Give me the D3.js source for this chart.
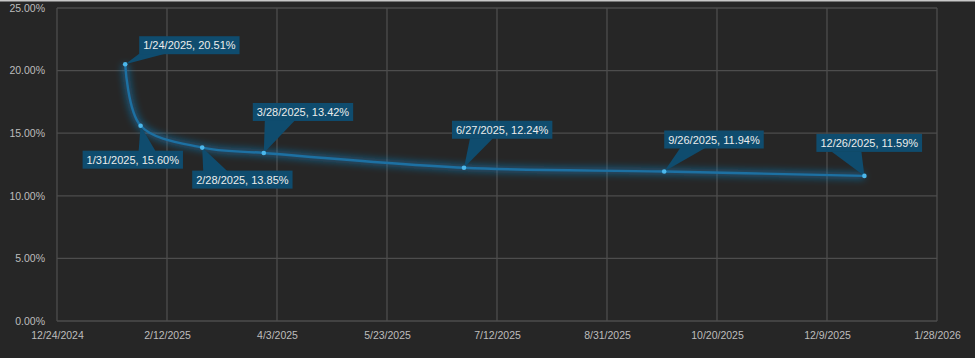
<!DOCTYPE html>
<html>
<head>
<meta charset="utf-8">
<script src="https://cdn.jsdelivr.net/npm/d3@7"></script>
<style>
  html, body { margin: 0; padding: 0; background: #262626; }
  svg { display: block; }
</style>
</head>
<body>
<svg id="chart" width="975" height="358"></svg>
<script>
// ---- data ----
const dates = ["2025-01-24", "2025-01-31", "2025-02-28", "2025-03-28", "2025-06-27", "2025-09-26", "2025-12-26"];
const values = [20.51, 15.60, 13.85, 13.42, 12.24, 11.94, 11.59];
const xTickLabels = ["12/24/2024", "2/12/2025", "4/3/2025", "5/23/2025", "7/12/2025", "8/31/2025", "10/20/2025", "12/9/2025", "1/28/2026"];
const yTickValues = [0, 5, 10, 15, 20, 25];

// ---- label layout (box offset from point, wedge base on box edge) ----
const labelLayout = [
  { dx: 14,  dy: -28, edge: "bottom", b0: 0,  b1: 26 },
  { dx: -58, dy: 25,  edge: "top",    b0: 56, b1: 73 },
  { dx: -10, dy: 23,  edge: "top",    b0: 11, b1: 35 },
  { dx: -11, dy: -50, edge: "bottom", b0: 12, b1: 42 },
  { dx: -12, dy: -47, edge: "bottom", b0: 18, b1: 41 },
  { dx: 0,   dy: -41, edge: "bottom", b0: 16, b1: 41 },
  { dx: -48, dy: -42, edge: "bottom", b0: 15, b1: 45 }
];

const parse = d3.timeParse("%Y-%m-%d");
const parseTick = d3.timeParse("%m/%d/%Y");
const fmtDate = d => `${d.getMonth() + 1}/${d.getDate()}/${d.getFullYear()}`;

const svg = d3.select("#chart");
const W = 975, H = 358;
const m = { left: 57, right: 975 - 937, top: 8, bottom: 358 - 321 };

// screenshot top edge
svg.append("rect").attr("x", 0).attr("y", 0).attr("width", W).attr("height", 1.5).attr("fill", "#c8c8c8");

const xTicks = xTickLabels.map(parseTick);
const x = d3.scaleTime()
  .domain([xTicks[0], xTicks[xTicks.length - 1]])
  .range([m.left, W - m.right]);
const y = d3.scaleLinear().domain([0, 25]).range([H - m.bottom, m.top]);

const defs = svg.append("defs");
const glow = defs.append("filter").attr("id", "glow")
  .attr("x", "-10%").attr("y", "-30%").attr("width", "120%").attr("height", "160%");
glow.append("feGaussianBlur").attr("stdDeviation", 3.5);

// grid
const grid = svg.append("g");
grid.selectAll(".hy").data(yTickValues).join("line")
  .attr("x1", m.left).attr("x2", W - m.right)
  .attr("y1", d => y(d)).attr("y2", d => y(d))
  .attr("stroke", "#4d4d4d").attr("stroke-width", 1.3);
grid.selectAll(".vx").data(xTicks).join("line")
  .attr("x1", d => x(d)).attr("x2", d => x(d))
  .attr("y1", m.top).attr("y2", H - m.bottom)
  .attr("stroke", "#4d4d4d").attr("stroke-width", 1.3);

// axes
const yAxis = d3.axisLeft(y).tickValues(yTickValues).tickSize(0).tickPadding(12)
  .tickFormat(d => d.toFixed(2) + "%");
const gy = svg.append("g").attr("transform", `translate(${m.left},0)`).call(yAxis);
gy.select(".domain").remove();
gy.selectAll("text").attr("fill", "#bdbdbd").style("font-family", "'Liberation Sans', Arial, sans-serif").style("font-size", "10.5px");

const xAxis = d3.axisBottom(x).tickValues(xTicks).tickSize(0).tickPadding(11)
  .tickFormat(fmtDate);
const gx = svg.append("g").attr("transform", `translate(0,${H - m.bottom})`).call(xAxis);
gx.select(".domain").remove();
gx.selectAll("text").attr("fill", "#bdbdbd").style("font-family", "'Liberation Sans', Arial, sans-serif").style("font-size", "10.5px");

// data
const pts = dates.map((d, i) => ({ date: parse(d), value: values[i] }));
const line = d3.line().x(d => x(d.date)).y(d => y(d.value)).curve(d3.curveCatmullRom.alpha(0.5));

svg.append("path").datum(pts).attr("d", line)
  .attr("fill", "none").attr("stroke", "#1a7fc0").attr("stroke-width", 7)
  .attr("stroke-opacity", 0.55).attr("filter", "url(#glow)");
svg.append("path").datum(pts).attr("d", line)
  .attr("fill", "none").attr("stroke", "#1d70a2").attr("stroke-width", 2.4);

// labels
const lg = svg.append("g");
const BOX_H = 18;
pts.forEach((p, i) => {
  const L = labelLayout[i];
  const px = x(p.date), py = y(p.value);
  const text = `${fmtDate(p.date)}, ${p.value.toFixed(2)}%`;
  const g = lg.append("g");
  const t = g.append("text").text(text)
    .style("font-family", "'Liberation Sans', Arial, sans-serif").style("font-size", "11px")
    .attr("fill", "#ececec");
  const tw = t.node().getComputedTextLength();
  const bw = tw + 8;
  const bx = px + L.dx, by = py + L.dy;
  const ey = L.edge === "bottom" ? by + BOX_H - 0.5 : by + 0.5;
  const path = `M${px},${py}L${bx + L.b0},${ey}L${bx + L.b1},${ey}Z`;
  g.insert("path", "text").attr("d", path).attr("fill", "#0f4c6e");
  g.insert("rect", "text").attr("x", bx).attr("y", by).attr("width", bw).attr("height", BOX_H).attr("fill", "#0f4c6e");
  t.attr("x", bx + 4).attr("y", by + 13);
});

// markers
svg.append("g").selectAll("circle").data(pts).join("circle")
  .attr("cx", d => x(d.date)).attr("cy", d => y(d.value)).attr("r", 2.3)
  .attr("fill", "#4cb8ec");
</script>
</body>
</html>
